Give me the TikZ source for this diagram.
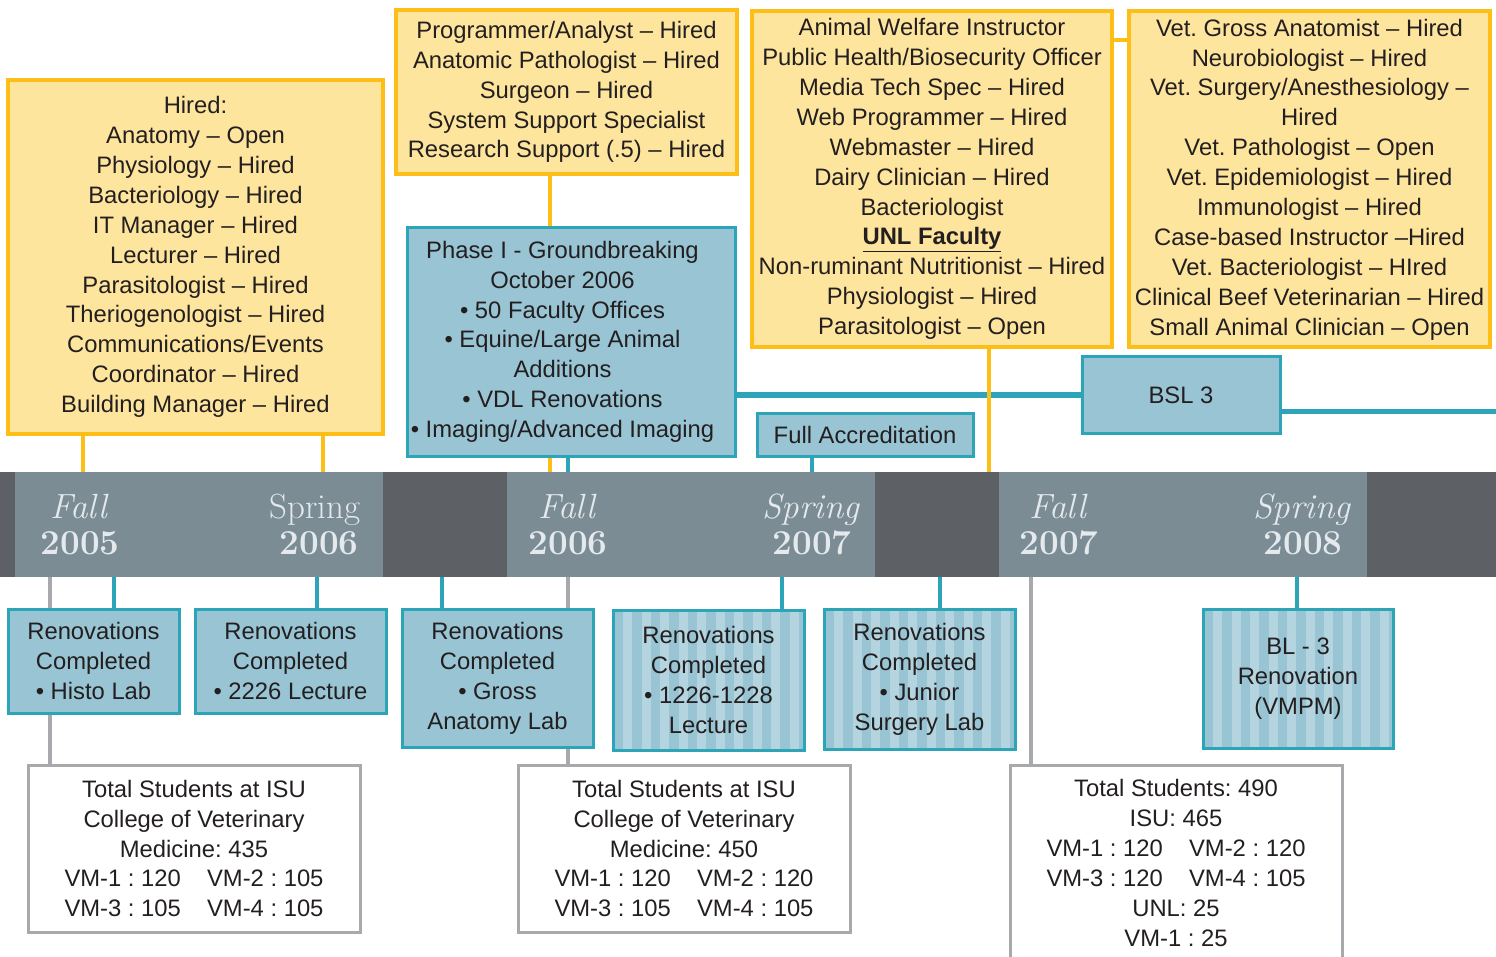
\documentclass[tikz,border=0pt]{standalone}
\usepackage{fontspec}
\newfontfamily\boxfont[Ligatures=TeX]{Liberation Sans}
\usetikzlibrary{backgrounds}
\frenchspacing

\definecolor{hirefill}{HTML}{FEE59D}
\definecolor{hireline}{HTML}{FDBF17}
\definecolor{renofill}{HTML}{98C4D4}
\definecolor{renostripe}{HTML}{B4D4DF}
\definecolor{renoline}{HTML}{2CA5B9}
\definecolor{statline}{HTML}{A7A9AC}
\definecolor{barlight}{HTML}{7C8C95}
\definecolor{bardark}{HTML}{5D6166}
\definecolor{bartext}{HTML}{E3E9ED}
\definecolor{ink}{HTML}{231F20}

\begin{document}
\begin{tikzpicture}[x=1pt, y=-1pt]
		\tikzstyle {box} = [align=center, inner sep=0pt, text=ink, font=\boxfont\fontsize{23.8}{29.9}\selectfont]
		\tikzstyle {hire box} = [box, draw=hireline, fill=hirefill, line width=4pt]
		\tikzstyle {reno box} = [box, draw=renoline, fill=renofill, line width=3pt]
		\tikzstyle {stripe box} = [reno box, path picture={
			\foreach \k in {0,...,10}
				\fill[renostripe] ([xshift={10pt+\k*18.5pt}]path picture bounding box.south west) rectangle ++(9pt,160pt);}]
		\tikzstyle {stat box} = [box, draw=statline, fill=white, line width=3pt]
		\tikzstyle {hire link} = [hireline, line width=4.5pt]
		\tikzstyle {reno link} = [renoline, line width=4.5pt]
		\tikzstyle {stat link} = [statline, line width=4.5pt]
		\tikzstyle {term} = [anchor=base, inner sep=0pt, text=bartext, font=\fontsize{35}{36}\selectfont\itshape]
		\tikzstyle {year} = [anchor=base, inner sep=0pt, text=bartext, font=\fontsize{35}{36}\selectfont\bfseries]

		\useasboundingbox (0,0) rectangle (1496,957);

		% timeline bar
		\fill[bardark] (0,472) rectangle (1496,577);
		\foreach \a/\b in {15/383, 507/875, 999/1367}
			\fill[barlight] (\a,472) rectangle (\b,577);

		\node[term] (termA) at (79,518) {Fall};
		\node[year] (yearA) at (80,554) {2005};
		\node[term, font=\fontsize{35}{36}\selectfont] (termB) at (315,518) {Spring};
		\node[year] (yearB) at (319,554) {2006};
		\node[term] (termC) at (567,518) {Fall};
		\node[year] (yearC) at (568,554) {2006};
		\node[term] (termD) at (811,518) {Spring};
		\node[year] (yearD) at (812,554) {2007};
		\node[term] (termE) at (1058,518) {Fall};
		\node[year] (yearE) at (1059,554) {2007};
		\node[term] (termF) at (1302,518) {Spring};
		\node[year] (yearF) at (1303,554) {2008};

		\coordinate (up1) at (83,472);
		\coordinate (up2) at (323,472);
		\coordinate (up3) at (550,472);
		\coordinate (up4) at (568,472);
		\coordinate (up5) at (812,472);
		\coordinate (up6) at (989,472);
		\coordinate (dn1) at (50,577);
		\coordinate (dn2) at (114,577);
		\coordinate (dn3) at (317,577);
		\coordinate (dn4) at (442,577);
		\coordinate (dn5) at (568,577);
		\coordinate (dn6) at (782,577);
		\coordinate (dn7) at (940,577);
		\coordinate (dn8) at (1031,577);
		\coordinate (dn9) at (1297,577);
		\coordinate (stub) at (1120,40);
		\coordinate (edge) at (1496,411);

		% positions above the bar
		\node[hire box, minimum width=375, minimum height=353] (hiredA) at (195.5,257)
			{Hired:\\Anatomy -- Open\\Physiology -- Hired\\Bacteriology -- Hired\\IT Manager -- Hired\\Lecturer -- Hired\\Parasitologist -- Hired\\Theriogenologist -- Hired\\Communications/Events\\Coordinator -- Hired\\Building Manager -- Hired};
		\node[hire box, minimum width=341, minimum height=164] (hiredB) at (566.5,92)
			{Programmer/Analyst -- Hired\\Anatomic Pathologist -- Hired\\Surgeon -- Hired\\System Support Specialist\\Research Support (.5) -- Hired};
		\node[hire box, minimum width=360, minimum height=336] (hiredC) at (932,179)
			{Animal Welfare Instructor\\Public Health/Biosecurity Officer\\Media Tech Spec -- Hired\\Web Programmer -- Hired\\Webmaster -- Hired\\Dairy Clinician -- Hired\\Bacteriologist\\\underline{\textbf{UNL Faculty}}\\Non-ruminant Nutritionist -- Hired\\Physiologist -- Hired\\Parasitologist -- Open};
		\node[hire box, minimum width=361, minimum height=336] (hiredD) at (1309.5,179.5)
			{Vet. Gross Anatomist -- Hired\\Neurobiologist -- Hired\\Vet. Surgery/Anesthesiology --\\Hired\\Vet. Pathologist -- Open\\Vet. Epidemiologist -- Hired\\Immunologist -- Hired\\Case-based Instructor --Hired\\Vet. Bacteriologist -- HIred\\Clinical Beef Veterinarian -- Hired\\Small Animal Clinician -- Open};

		\node[reno box, align=none, minimum width=328, minimum height=228] (phase) at (571,342)
			{\begin{tabular}{@{}c@{}}Phase I - Groundbreaking\\October 2006\\\textbullet{} 50 Faculty Offices\\\textbullet{} Equine/Large Animal\\Additions\\\textbullet{} VDL Renovations\\\textbullet{} Imaging/Advanced Imaging\end{tabular}\hspace*{17pt}};
		\node[reno box, minimum width=198, minimum height=77] (bsl) at (1181,395) {BSL 3};
		\node[reno box, minimum width=216, minimum height=43] (accred) at (865,434.5) {Full Accreditation};

		% renovations below the bar
		\node[reno box, minimum width=171, minimum height=104] (renoA) at (93.5,661)
			{Renovations\\Completed\\\textbullet{} Histo Lab};
		\node[reno box, minimum width=191, minimum height=104] (renoB) at (290.5,661)
			{Renovations\\Completed\\\textbullet{} 2226 Lecture};
		\node[reno box, minimum width=191, minimum height=138] (renoC) at (497.5,678)
			{Renovations\\Completed\\\textbullet{} Gross\\Anatomy Lab};
		\node[stripe box, minimum width=191, minimum height=140] (renoD) at (708.5,680)
			{Renovations\\Completed\\\textbullet{} 1226-1228\\Lecture};
		\node[stripe box, minimum width=191, minimum height=140] (renoE) at (919.5,679)
			{Renovations\\Completed\\\textbullet{} Junior\\Surgery Lab};
		\node[stripe box, minimum width=190, minimum height=139] (renoF) at (1298,678.5)
			{BL - 3\\Renovation\\(VMPM)};

		% enrolment
		\node[stat box, minimum width=332, minimum height=167] (statsA) at (194,848.5)
			{Total Students at ISU\\College of Veterinary\\Medicine: 435\\VM-1 : 120\hspace{1.1em}VM-2 : 105\\VM-3 : 105\hspace{1.1em}VM-4 : 105};
		\node[stat box, minimum width=332, minimum height=167] (statsB) at (684,848.5)
			{Total Students at ISU\\College of Veterinary\\Medicine: 450\\VM-1 : 120\hspace{1.1em}VM-2 : 120\\VM-3 : 105\hspace{1.1em}VM-4 : 105};
		\node[stat box, minimum width=332, minimum height=196] (statsC) at (1176,863)
			{Total Students: 490\\ISU: 465\\VM-1 : 120\hspace{1.1em}VM-2 : 120\\VM-3 : 120\hspace{1.1em}VM-4 : 105\\UNL: 25\\VM-1 : 25};

		\begin{scope}[on background layer]
			\draw[reno link, line width=6pt] (phase.east |- bsl.west) -- (bsl.west);
			\draw[reno link, line width=5pt] (bsl.east |- edge) -- (edge);
			\draw[reno link] (phase.south -| up4) -- (up4);
			\draw[reno link] (accred.south -| up5) -- (up5);

			\draw[hire link] (hiredA.south -| up1) -- (up1);
			\draw[hire link] (hiredA.south -| up2) -- (up2);
			\draw[hire link] (hiredB.south -| up3) -- (up3);
			\draw[hire link] (hiredC.south -| up6) -- (up6);
			\draw[hire link] (hiredC.east |- stub) -- (hiredD.west |- stub);

			\draw[reno link] (renoA.north -| dn2) -- (dn2);
			\draw[reno link] (renoB.north -| dn3) -- (dn3);
			\draw[reno link] (renoC.north -| dn4) -- (dn4);
			\draw[reno link] (renoD.north -| dn6) -- (dn6);
			\draw[reno link] (renoE.north -| dn7) -- (dn7);
			\draw[reno link] (renoF.north -| dn9) -- (dn9);

			\draw[stat link] (statsA.north -| dn1) -- (dn1);
			\draw[stat link] (statsB.north -| dn5) -- (dn5);
			\draw[stat link] (statsC.north -| dn8) -- (dn8);
		\end{scope}
\end{tikzpicture}
\end{document}
